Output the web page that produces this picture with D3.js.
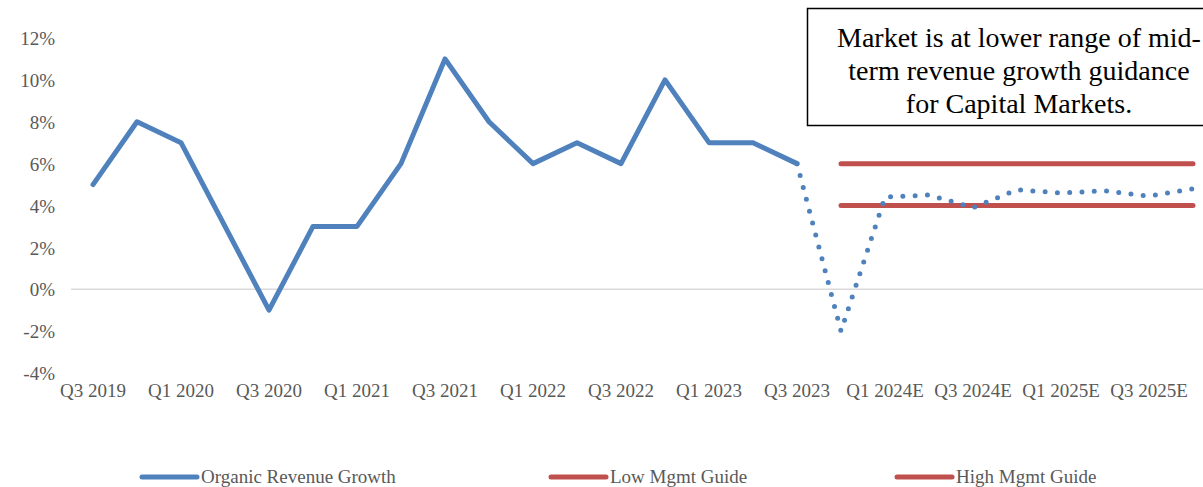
<!DOCTYPE html>
<html>
<head>
<meta charset="utf-8">
<script src="https://cdn.jsdelivr.net/npm/d3@7"></script>
<style>
  html, body { margin: 0; padding: 0; background: #fff; overflow: hidden; }
  svg { display: block; font-family: "Liberation Serif", "DejaVu Serif", serif; }
</style>
</head>
<body>
<svg id="chart" width="1203" height="487"></svg>
<script>
// Quarterly categories (actuals then estimates)
const quarters = [
  "Q3 2019","Q4 2019","Q1 2020","Q2 2020","Q3 2020","Q4 2020",
  "Q1 2021","Q2 2021","Q3 2021","Q4 2021","Q1 2022","Q2 2022",
  "Q3 2022","Q4 2022","Q1 2023","Q2 2023","Q3 2023","Q4 2023",
  "Q1 2024E","Q2 2024E","Q3 2024E","Q4 2024E","Q1 2025E","Q2 2025E",
  "Q3 2025E","Q4 2025E"
];
// Organic revenue growth, % (reported)
const organicGrowth = [5, 8, 7, 3, -1, 3, 3, 6, 11, 8, 6, 7, 6, 10, 7, 7, 6,
  null, null, null, null, null, null, null, null, null];
// Organic revenue growth, % (estimates, continuing from Q3 2023)
const organicForecast = [null, null, null, null, null, null, null, null, null,
  null, null, null, null, null, null, null, 6, -2, 4.4, 4.5, 3.9, 4.75, 4.6, 4.7, 4.45, 4.8];
// Mid-term management guidance band, %
const lowGuide  = [null, null, null, null, null, null, null, null, null,
  null, null, null, null, null, null, null, null, 4, 4, 4, 4, 4, 4, 4, 4, 4];
const highGuide = [null, null, null, null, null, null, null, null, null,
  null, null, null, null, null, null, null, null, 6, 6, 6, 6, 6, 6, 6, 6, 6];

const yTicks = [-4, -2, 0, 2, 4, 6, 8, 10, 12];
const xTickLabels = quarters.filter((q, i) => i % 2 === 0);

const calloutLines = [
  "Market is at lower range of mid-",
  "term revenue growth guidance",
  "for Capital Markets."
];
const legendItems = [
  { name: "Organic Revenue Growth", color: "#4F81BD" },
  { name: "Low Mgmt Guide", color: "#C0504D" },
  { name: "High Mgmt Guide", color: "#C0504D" }
];

const svg = d3.select("#chart");
const blue = "#4F81BD", red = "#C0504D", grey = "#595959";

const x = d3.scaleBand().domain(quarters).range([71, 1215]).padding(0);
const cx = q => x(q) + x.bandwidth() / 2;
const y = d3.scaleLinear().domain([-4, 12]).range([373, 38]);

// Zero line
svg.append("line")
  .attr("x1", x.range()[0]).attr("x2", x.range()[1])
  .attr("y1", y(0)).attr("y2", y(0))
  .attr("stroke", "#D9D9D9").attr("stroke-width", 1.5);

// Y axis labels
const yAxis = d3.axisLeft(y).tickValues(yTicks).tickFormat(d => d + "%").tickSize(0).tickPadding(0);
const yg = svg.append("g").attr("transform", "translate(55,0)").call(yAxis);
yg.select(".domain").remove();
yg.selectAll("text").attr("fill", grey).attr("font-size", 19)
  .attr("font-family", "Liberation Serif").attr("dy", "0.35em");

// X axis labels
const xAxis = d3.axisBottom(x).tickValues(xTickLabels).tickSize(0).tickPadding(0);
const xg = svg.append("g").attr("transform", `translate(0,${y(-4)})`).call(xAxis);
xg.select(".domain").remove();
xg.selectAll("text").attr("fill", grey).attr("font-size", 19)
  .attr("font-family", "Liberation Serif").attr("dy", "1.25em");

const lineGen = vals => d3.line()
  .defined((d, i) => vals[i] !== null)
  .x((d, i) => cx(quarters[i]))
  .y((d, i) => y(vals[i]))(vals);

// Guidance lines
[lowGuide, highGuide].forEach(vals => {
  svg.append("path").attr("d", lineGen(vals))
    .attr("fill", "none").attr("stroke", red).attr("stroke-width", 5)
    .attr("stroke-linecap", "round");
});

// Forecast (dotted)
svg.append("path").attr("d", lineGen(organicForecast))
  .attr("fill", "none").attr("stroke", blue).attr("stroke-width", 5)
  .attr("stroke-linecap", "round").attr("stroke-dasharray", "0 12.3");

// Reported (solid)
svg.append("path").attr("d", lineGen(organicGrowth))
  .attr("fill", "none").attr("stroke", blue).attr("stroke-width", 5)
  .attr("stroke-linejoin", "round").attr("stroke-linecap", "round");

// Callout box
svg.append("rect").attr("x", 807.5).attr("y", 8.5).attr("width", 410).attr("height", 117)
  .attr("fill", "#fff").attr("stroke", "#000").attr("stroke-width", 1.5);
svg.append("g").selectAll("text").data(calloutLines).join("text")
  .attr("x", 1019).attr("y", (d, i) => 47 + i * 33)
  .attr("text-anchor", "middle").attr("font-size", 28).attr("fill", "#000")
  .text(d => d);

// Legend
const legendX = [142, 551, 897];
const lg = svg.append("g").selectAll("g").data(legendItems).join("g")
  .attr("transform", (d, i) => `translate(${legendX[i]},477)`);
lg.append("line").attr("x1", 0).attr("x2", 55).attr("y1", 0).attr("y2", 0)
  .attr("stroke", d => d.color).attr("stroke-width", 5).attr("stroke-linecap", "round");
lg.append("text").attr("x", 59).attr("y", 0).attr("dy", "0.32em")
  .attr("font-size", 19).attr("fill", grey).text(d => d.name);
</script>
</body>
</html>
